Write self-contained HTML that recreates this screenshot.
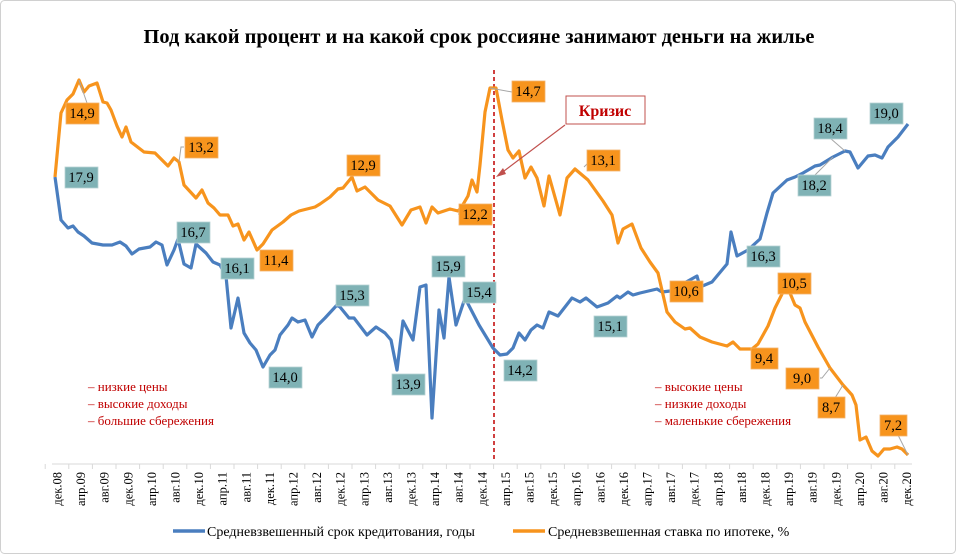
<!DOCTYPE html>
<html><head><meta charset="utf-8"><style>
body{margin:0;background:#fff;}
svg{display:block;font-family:"Liberation Serif",serif;}
</style></head><body>
<svg width="956" height="555" viewBox="0 0 956 555" xmlns="http://www.w3.org/2000/svg">
<rect x="0.5" y="0.5" width="955" height="553" rx="4" fill="#fff" stroke="#d0d0d0"/>
<text x="479" y="43" text-anchor="middle" font-size="20.4" font-weight="bold" fill="#000">Под какой процент и на какой срок россияне занимают деньги на жилье</text>
<line x1="52" y1="464" x2="912" y2="464" stroke="#d9d9d9" stroke-width="1"/>
<g id="ticks" stroke="#d9d9d9"></g>
<g id="xl" font-size="12.5" fill="#000"></g>
<line x1="494" y1="70" x2="494" y2="462" stroke="#c00000" stroke-width="1.5" stroke-dasharray="4,3"/>
<polyline fill="none" stroke="#4a7ebf" stroke-width="3.2" stroke-linejoin="round" points="55,177 61,220 68,228 73,226 78,232 84,236 92,243 103,245 112,245 120,242 126,246 132,254 139,249 150,247 156,242 162,245 167,265 174,250 178,239 184,264 191,268 196,244 206,253 213,262 220,265 226,276 231,328 238,298 244,333 250,343 256,350 263,367 270,355 275,350 280,335 288,325 292,318 298,322 305,320 312,337 318,325 325,318 337,305 340,307 349,318 354,318 367,335 376,327 385,333 391,340 397,370 403,321 413,340 420,287 426,285 432,418 439,310 444,338 449,277 456,325 465,298 479,325 493,348 500,355 507,354 513,348 519,333 525,340 531,330 537,325 543,328 549,312 558,316 572,298 580,302 586,298 597,307 608,303 617,296 620,298 628,292 633,295 640,293 657,289 662,292 670,291 697,276 700,287 712,282 727,264 731,232 737,256 748,250 760,239 767,213 773,193 787,180 795,177 803,173 815,166 820,165 833,157 845,151 850,152 858,168 868,156 875,155 882,158 888,147 898,137 908,124"/>
<polyline fill="none" stroke="#f7941d" stroke-width="3.2" stroke-linejoin="round" points="55,177 61,113 67,100 73,94 79,80 84,92 89,86 97,83 103,102 107,103 111,110 117,126 122,137 126,127 131,142 144,152 155,153 162,160 168,166 174,158 179,162 184,185 196,198 202,190 208,203 214,208 220,215 228,215 233,226 238,224 244,240 249,232 257,250 263,244 272,230 283,222 291,215 299,211 307,209 315,207 320,204 330,197 338,189 343,188 352,177 357,191 365,187 378,200 390,206 402,225 411,210 420,207 426,223 432,207 438,213 450,209 458,211 461,208 468,196 472,180 477,192 480,165 485,112 490,88 496,88 502,120 508,150 513,158 519,151 525,178 531,167 537,178 544,206 549,176 560,215 567,178 575,169 588,180 603,201 612,215 618,243 623,229 632,224 641,248 650,262 658,273 667,312 675,322 685,329 690,328 700,337 712,342 727,346 733,342 740,349 752,349 758,344 768,326 775,308 783,292 790,293 795,305 800,308 805,322 818,347 830,368 843,385 852,395 856,405 860,440 866,437 872,451 878,456 884,449 890,449 897,447 902,449 908,455"/>
<g stroke="#a6a6a6" stroke-width="1" fill="none">
<polyline points="79,80 87,103"/><polyline points="179,162 181,147 184,147"/><polyline points="490,88 512,92"/><polyline points="584,167 591,160 587,160"/>
<polyline points="462,208 462,214 458,214"/><polyline points="830,368 822,378 820,378"/><polyline points="843,385 835,398"/><polyline points="908,455 897,433"/>
<polyline points="845,151 830,138"/><polyline points="833,157 815,175"/>
</g>
<g font-size="14.5" text-anchor="middle" fill="#000">
<g fill="#f7941d" stroke="#f2b26b" stroke-width="0.8">
<rect x="66" y="103" width="33" height="21"/><rect x="185" y="137" width="33" height="21"/><rect x="260" y="250" width="33" height="21"/><rect x="347" y="155" width="33" height="21"/><rect x="459" y="204" width="33" height="21"/><rect x="512" y="81" width="33" height="21"/><rect x="587" y="150" width="33" height="21"/><rect x="670" y="281" width="33" height="21"/><rect x="778" y="273" width="33" height="21"/><rect x="751" y="348" width="27" height="21"/><rect x="786" y="368" width="33" height="21"/><rect x="818" y="397" width="27" height="21"/><rect x="880" y="415" width="27" height="21"/>
</g>
<g fill="#7fb2b5" stroke="#b7d3d4" stroke-width="0.8">
<rect x="65" y="167" width="33" height="21"/><rect x="177" y="222" width="33" height="21"/><rect x="221" y="258" width="33" height="21"/><rect x="269" y="367" width="33" height="21"/><rect x="336" y="285" width="33" height="21"/><rect x="392" y="374" width="33" height="21"/><rect x="432" y="256" width="33" height="21"/><rect x="463" y="282" width="33" height="21"/><rect x="504" y="360" width="33" height="21"/><rect x="594" y="316" width="33" height="21"/><rect x="747" y="246" width="33" height="21"/><rect x="814" y="118" width="33" height="21"/><rect x="798" y="175" width="33" height="21"/><rect x="870" y="103" width="33" height="21"/>
</g>
<text x="82" y="118">14,9</text><text x="201" y="152">13,2</text><text x="276" y="265">11,4</text><text x="363" y="170">12,9</text><text x="475" y="219">12,2</text><text x="528" y="96">14,7</text><text x="603" y="165">13,1</text><text x="686" y="296">10,6</text><text x="794" y="288">10,5</text><text x="764" y="363">9,4</text><text x="802" y="383">9,0</text><text x="831" y="412">8,7</text><text x="893" y="430">7,2</text>
<text x="81" y="182">17,9</text><text x="193" y="237">16,7</text><text x="237" y="273">16,1</text><text x="285" y="382">14,0</text><text x="352" y="300">15,3</text><text x="408" y="389">13,9</text><text x="448" y="271">15,9</text><text x="479" y="297">15,4</text><text x="520" y="375">14,2</text><text x="610" y="331">15,1</text><text x="763" y="261">16,3</text><text x="830" y="133">18,4</text><text x="814" y="190">18,2</text><text x="886" y="118">19,0</text>
</g>
<rect x="566" y="96" width="79" height="28" fill="#fff" stroke="#c0504d" stroke-width="1"/>
<text x="605" y="116" text-anchor="middle" font-size="16" font-weight="bold" fill="#c00000">Кризис</text>
<line x1="565" y1="125" x2="500" y2="174" stroke="#c0504d" stroke-width="1.2"/>
<polygon points="496,177 503,168 506,174" fill="#c0504d"/>
<g font-size="13" fill="#c00000">
<text x="88" y="391">– низкие цены</text><text x="88" y="408">– высокие доходы</text><text x="88" y="425">– большие сбережения</text>
<text x="655" y="391">– высокие цены</text><text x="655" y="408">– низкие доходы</text><text x="655" y="425">– маленькие сбережения</text>
</g>
<line x1="173" y1="531" x2="205" y2="531" stroke="#4a7ebf" stroke-width="3.5"/>
<text x="207" y="536" font-size="14" fill="#000">Средневзвешенный срок кредитования, годы</text>
<line x1="513" y1="531" x2="545" y2="531" stroke="#f7941d" stroke-width="3.5"/>
<text x="548" y="536" font-size="14" fill="#000">Средневзвешенная ставка по ипотеке, %</text>
<script>
var m=["дек","апр","авг"],xl=document.getElementById("xl"),tk=document.getElementById("ticks"),ns="http://www.w3.org/2000/svg";
for(var i=0;i<37;i++){var x=57+i*23.6;var yr=8+Math.floor((i+2)/3);var t=document.createElementNS(ns,"text");
t.setAttribute("transform","translate("+(x+4.5)+",472) rotate(-90)");t.setAttribute("text-anchor","end");
t.textContent=m[i%3]+"."+(yr<10?"0"+yr:yr);if(i==0)t.textContent="дек.08";xl.appendChild(t);
var l=document.createElementNS(ns,"line");l.setAttribute("x1",x-11.8);l.setAttribute("x2",x-11.8);l.setAttribute("y1",464);l.setAttribute("y2",469);tk.appendChild(l);}
</script>
</svg>
</body></html>
